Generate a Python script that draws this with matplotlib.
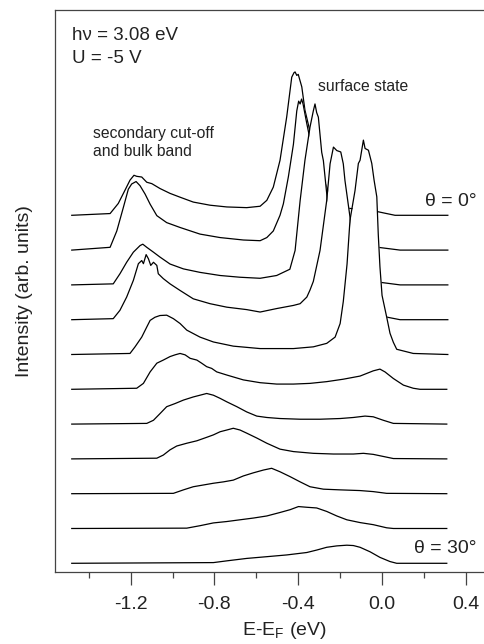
import matplotlib
matplotlib.use("Agg")
import matplotlib.pyplot as plt
from matplotlib.ticker import MultipleLocator

plt.rcParams["font.family"] = ["Liberation Sans", "DejaVu Sans"]
INK = "#222222"

# emission angles (deg), top curve = 0 deg
angles = [0, 3, 6, 9, 12, 15, 18, 21, 24, 27, 30]

# energy E-EF (eV) and intensity (one offset unit = spacing between curves)
th00_e = [-1.481, -1.298, -1.259, -1.227, -1.203, -1.184, -1.171, -1.147, -1.123, -1.099, -1.060, -1.012,
          -0.964, -0.901, -0.821, -0.741, -0.646, -0.582, -0.550, -0.519, -0.487, -0.455, -0.431, -0.420,
          -0.415, -0.407, -0.400, -0.383, -0.368, -0.334, -0.296, -0.248, -0.200, -0.162, -0.081, -0.033,
          0.014, 0.062, 0.314]
th00_i = [0.0, 0.05, 0.34, 0.72, 1.01, 1.15, 1.12, 1.10, 0.95, 0.91, 0.77, 0.63,
          0.52, 0.38, 0.29, 0.24, 0.22, 0.26, 0.43, 0.81, 1.58, 2.83, 3.97, 4.10,
          4.12, 4.02, 4.05, 3.69, 3.02, 2.16, 1.29, 0.57, 0.29, 0.20, 0.17, 0.12,
          0.06, 0.0, 0.0]

th03_e = [-1.481, -1.298, -1.266, -1.235, -1.211, -1.195, -1.174, -1.155, -1.131, -1.107, -1.075, -1.028,
          -0.964, -0.869, -0.773, -0.662, -0.582, -0.550, -0.519, -0.487, -0.471, -0.447, -0.423, -0.407,
          -0.398, -0.391, -0.384, -0.377, -0.359, -0.336, -0.312, -0.280, -0.248, -0.200, -0.153, -0.105,
          -0.019, 0.086, 0.314]
th03_i = [0.0, 0.08, 0.55, 1.22, 1.75, 1.90, 1.97, 1.85, 1.61, 1.32, 0.99, 0.79,
          0.65, 0.46, 0.36, 0.29, 0.27, 0.36, 0.55, 1.00, 1.33, 2.11, 3.04, 4.00,
          4.28, 4.20, 4.34, 4.20, 3.63, 2.96, 2.18, 1.41, 0.70, 0.41, 0.27, 0.18,
          0.08, 0.0, 0.0]

th06_e = [-1.481, -1.283, -1.251, -1.219, -1.187, -1.155, -1.142, -1.123, -1.091, -1.060, -1.012, -0.948,
          -0.869, -0.773, -0.678, -0.582, -0.503, -0.440, -0.415, -0.391, -0.368, -0.344, -0.328, -0.320,
          -0.312, -0.304, -0.288, -0.280, -0.264, -0.248, -0.224, -0.191, -0.129, -0.057, -0.010, 0.086,
          0.314]
th06_i = [0.0, 0.03, 0.32, 0.65, 0.94, 1.13, 1.17, 1.08, 0.94, 0.80, 0.60, 0.46,
          0.36, 0.27, 0.22, 0.19, 0.27, 0.45, 0.99, 2.42, 3.58, 4.53, 5.00, 5.20,
          4.95, 4.82, 3.81, 3.57, 2.62, 1.55, 0.84, 0.47, 0.24, 0.12, 0.075, 0.0,
          0.0]

th09_e = [-1.481, -1.283, -1.251, -1.219, -1.187, -1.163, -1.147, -1.139, -1.126, -1.115, -1.104, -1.091,
          -1.075, -1.068, -1.044, -1.012, -0.964, -0.901, -0.821, -0.741, -0.646, -0.582, -0.503, -0.423,
          -0.391, -0.359, -0.344, -0.328, -0.296, -0.264, -0.248, -0.232, -0.216, -0.197, -0.185, -0.177,
          -0.166, -0.153, -0.138, -0.115, -0.081, -0.033, 0.022, 0.086, 0.314]
th09_i = [0.0, 0.03, 0.27, 0.65, 1.13, 1.61, 1.70, 1.61, 1.87, 1.75, 1.56, 1.65,
          1.56, 1.32, 1.18, 1.03, 0.84, 0.60, 0.46, 0.36, 0.29, 0.22, 0.32, 0.41,
          0.46, 0.65, 0.85, 1.10, 1.99, 3.43, 4.48, 4.96, 4.86, 4.82, 4.48, 4.00,
          3.52, 2.95, 2.28, 1.42, 0.70, 0.27, 0.075, 0.0, 0.0]

th12_e = [-1.481, -1.203, -1.179, -1.147, -1.123, -1.107, -1.084, -1.060, -1.028, -0.996, -0.964, -0.932,
          -0.869, -0.805, -0.710, -0.582, -0.423, -0.328, -0.264, -0.224, -0.200, -0.185, -0.167, -0.153,
          -0.129, -0.113, -0.105, -0.097, -0.089, -0.081, -0.065, -0.049, -0.038, -0.025, -0.018, -0.010,
          0.000, 0.022, 0.038, 0.054, 0.070, 0.149, 0.314]
th12_i = [0.0, 0.03, 0.22, 0.50, 0.79, 0.98, 1.07, 1.12, 1.13, 1.03, 0.89, 0.70,
          0.50, 0.36, 0.24, 0.17, 0.17, 0.22, 0.32, 0.50, 0.89, 1.52, 2.60, 3.86,
          4.71, 5.49, 5.58, 5.87, 6.16, 5.92, 5.87, 5.49, 5.01, 4.53, 3.45, 2.52,
          1.70, 1.08, 0.61, 0.35, 0.15, 0.03, 0.0]

th15_e = [-1.481, -1.171, -1.139, -1.107, -1.075, -1.044, -1.028, -1.012, -0.988, -0.964, -0.940, -0.916,
          -0.884, -0.861, -0.837, -0.813, -0.789, -0.741, -0.662, -0.582, -0.503, -0.423, -0.344, -0.264,
          -0.185, -0.105, -0.042, -0.010, 0.014, 0.054, 0.102, 0.149, 0.181, 0.309]
th15_i = [0.0, 0.03, 0.17, 0.50, 0.75, 0.84, 0.89, 0.94, 0.99, 1.03, 0.99, 0.89,
          0.84, 0.75, 0.65, 0.60, 0.50, 0.41, 0.27, 0.19, 0.15, 0.15, 0.17, 0.22,
          0.29, 0.38, 0.53, 0.58, 0.50, 0.31, 0.12, 0.03, 0.0, 0.0]

th18_e = [-1.481, -1.123, -1.091, -1.060, -1.028, -0.988, -0.948, -0.901, -0.869, -0.837, -0.805, -0.773,
          -0.741, -0.693, -0.646, -0.598, -0.550, -0.487, -0.391, -0.296, -0.200, -0.137, -0.081, -0.042,
          0.006, 0.054, 0.309]
th18_i = [0.0, 0.02, 0.11, 0.30, 0.50, 0.59, 0.69, 0.78, 0.83, 0.88, 0.83, 0.74,
          0.64, 0.50, 0.35, 0.23, 0.19, 0.16, 0.14, 0.14, 0.16, 0.19, 0.23, 0.21,
          0.11, 0.02, 0.0]

th21_e = [-1.481, -1.075, -1.044, -1.012, -0.980, -0.932, -0.884, -0.837, -0.805, -0.773, -0.741, -0.710,
          -0.678, -0.646, -0.598, -0.550, -0.487, -0.423, -0.328, -0.232, -0.137, -0.089, -0.042, 0.006,
          0.054, 0.309]
th21_i = [0.0, 0.02, 0.11, 0.26, 0.37, 0.45, 0.52, 0.62, 0.69, 0.78, 0.83, 0.88,
          0.83, 0.74, 0.60, 0.45, 0.28, 0.21, 0.16, 0.14, 0.14, 0.16, 0.13, 0.07,
          0.01, 0.0]

th24_e = [-1.481, -0.996, -0.948, -0.901, -0.853, -0.805, -0.757, -0.710, -0.662, -0.614, -0.566, -0.527,
          -0.487, -0.439, -0.391, -0.344, -0.280, -0.200, -0.105, -0.042, 0.022, 0.309]
th24_i = [0.0, 0.01, 0.11, 0.20, 0.25, 0.30, 0.34, 0.39, 0.51, 0.60, 0.68, 0.73,
          0.63, 0.49, 0.34, 0.20, 0.13, 0.11, 0.09, 0.06, 0.01, 0.0]

th27_e = [-1.481, -0.932, -0.869, -0.805, -0.741, -0.678, -0.614, -0.550, -0.487, -0.439, -0.399, -0.359,
          -0.312, -0.264, -0.216, -0.168, -0.105, -0.042, 0.022, 0.054, 0.309]
th27_i = [0.0, 0.01, 0.08, 0.16, 0.20, 0.25, 0.30, 0.36, 0.46, 0.54, 0.63, 0.61,
          0.59, 0.49, 0.36, 0.25, 0.17, 0.11, 0.02, 0.0, 0.0]

th30_e = [-1.481, -0.805, -0.741, -0.646, -0.550, -0.455, -0.359, -0.312, -0.264, -0.216, -0.168, -0.137,
          -0.105, -0.057, -0.010, 0.038, 0.070, 0.309]
th30_i = [0.0, 0.02, 0.07, 0.14, 0.19, 0.24, 0.31, 0.38, 0.46, 0.50, 0.52, 0.51,
          0.46, 0.33, 0.17, 0.05, 0.0, 0.0]

curves = [(th00_e, th00_i), (th03_e, th03_i), (th06_e, th06_i), (th09_e, th09_i),
          (th12_e, th12_i), (th15_e, th15_i), (th18_e, th18_i), (th21_e, th21_i),
          (th24_e, th24_i), (th27_e, th27_i), (th30_e, th30_i)]

fig = plt.figure(figsize=(4.85, 6.44), dpi=100)
ax = fig.add_axes([0.1134, 0.1123, 0.9443, 0.8722])

n = len(angles)
for k, (e, i) in enumerate(curves):
    off = n - 1 - k
    y = [off + v for v in i]
    # hidden-line look: front (lower) traces mask the ones behind them
    ax.fill_between(e, off, y, color="white", lw=0, zorder=2 * k + 1)
    ax.plot(e, y, color="black", lw=0.9, zorder=2 * k + 2)

ax.set_xlim(-1.561, 0.625)
ax.set_ylim(-0.241, 15.90)

ax.xaxis.set_minor_locator(MultipleLocator(0.2))
ax.set_xticks([-1.2, -0.8, -0.4, 0.0, 0.4])
ax.set_xticklabels(["-1.2", "-0.8", "-0.4", "0.0", "0.4"])
ax.tick_params(axis="x", which="major", direction="out", length=9.5, width=0.9,
               color="#444444", labelsize=14, labelcolor=INK, pad=8)
ax.tick_params(axis="x", which="minor", direction="out", length=4.5, width=0.9, color="#444444")
ax.set_yticks([])
for s in ax.spines.values():
    s.set_color("#444444")
    s.set_linewidth(0.9)

ax.set_xlabel("E-E$_\\mathregular{F}$ (eV)", fontsize=14, color=INK, labelpad=5)
ax.set_ylabel("Intensity (arb. units)", fontsize=14, color=INK, labelpad=16)

tz = 100
ax.text(-1.481, 15.18, "hν = 3.08 eV", fontsize=13.5, color=INK, va="center", zorder=tz)
ax.text(-1.481, 14.52, "U = -5 V", fontsize=13.5, color=INK, va="center", zorder=tz)
ax.text(-0.304, 13.69, "surface state", fontsize=11.3, color=INK, va="center", zorder=tz)
ax.text(-1.378, 12.36, "secondary cut-off", fontsize=11.3, color=INK, va="center", zorder=tz)
ax.text(-1.378, 11.82, "and bulk band", fontsize=11.3, color=INK, va="center", zorder=tz)
ax.text(0.452, 10.39, f"θ = {angles[0]}°", fontsize=14, color=INK, va="center", ha="right", zorder=tz)
ax.text(0.452, 0.43, f"θ = {angles[-1]}°", fontsize=14, color=INK, va="center", ha="right", zorder=tz)

fig.savefig("out.png", dpi=100)
